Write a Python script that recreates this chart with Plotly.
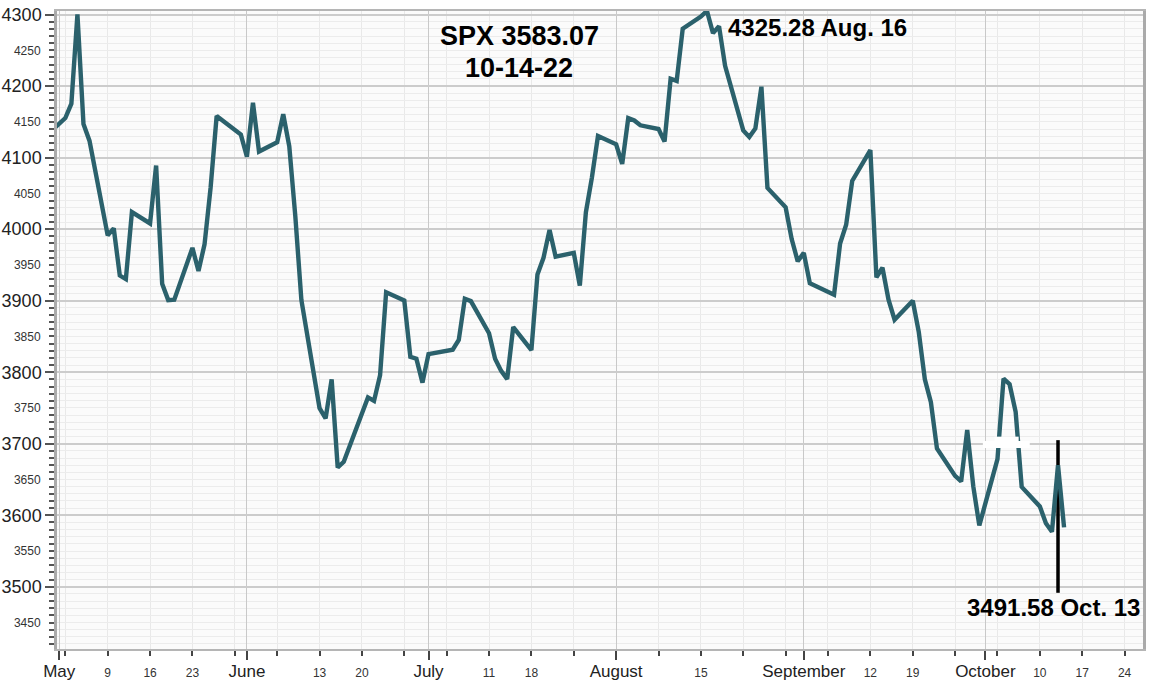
import plotly.graph_objects as go

# ---- data ----
dates = [
    "2022-04-29",
    "2022-05-02", "2022-05-03", "2022-05-04", "2022-05-05", "2022-05-06",
    "2022-05-09", "2022-05-10", "2022-05-11", "2022-05-12", "2022-05-13",
    "2022-05-16", "2022-05-17", "2022-05-18", "2022-05-19", "2022-05-20",
    "2022-05-23", "2022-05-24", "2022-05-25", "2022-05-26", "2022-05-27",
    "2022-05-31", "2022-06-01", "2022-06-02", "2022-06-03",
    "2022-06-06", "2022-06-07", "2022-06-08", "2022-06-09", "2022-06-10",
    "2022-06-13", "2022-06-14", "2022-06-15", "2022-06-16", "2022-06-17",
    "2022-06-21", "2022-06-22", "2022-06-23", "2022-06-24",
    "2022-06-27", "2022-06-28", "2022-06-29", "2022-06-30", "2022-07-01",
    "2022-07-05", "2022-07-06", "2022-07-07", "2022-07-08",
    "2022-07-11", "2022-07-12", "2022-07-13", "2022-07-14", "2022-07-15",
    "2022-07-18", "2022-07-19", "2022-07-20", "2022-07-21", "2022-07-22",
    "2022-07-25", "2022-07-26", "2022-07-27", "2022-07-28", "2022-07-29",
    "2022-08-01", "2022-08-02", "2022-08-03", "2022-08-04", "2022-08-05",
    "2022-08-08", "2022-08-09", "2022-08-10", "2022-08-11", "2022-08-12",
    "2022-08-15", "2022-08-16", "2022-08-17", "2022-08-18", "2022-08-19",
    "2022-08-22", "2022-08-23", "2022-08-24", "2022-08-25", "2022-08-26",
    "2022-08-29", "2022-08-30", "2022-08-31", "2022-09-01", "2022-09-02",
    "2022-09-06", "2022-09-07", "2022-09-08", "2022-09-09",
    "2022-09-12", "2022-09-13", "2022-09-14", "2022-09-15", "2022-09-16",
    "2022-09-19", "2022-09-20", "2022-09-21", "2022-09-22", "2022-09-23",
    "2022-09-26", "2022-09-27", "2022-09-28", "2022-09-29", "2022-09-30",
    "2022-10-03", "2022-10-04", "2022-10-05", "2022-10-06", "2022-10-07",
    "2022-10-10", "2022-10-11", "2022-10-12", "2022-10-13", "2022-10-14",
]
closes = [
    4131.93,
    4155.38, 4175.48, 4300.17, 4146.87, 4123.34,
    3991.24, 4001.05, 3935.18, 3930.08, 4023.89,
    4008.01, 4088.85, 3923.68, 3900.79, 3901.36,
    3973.75, 3941.48, 3978.73, 4057.84, 4158.24,
    4132.15, 4101.23, 4176.82, 4108.54,
    4121.43, 4160.68, 4115.77, 4017.82, 3900.86,
    3749.63, 3735.48, 3789.99, 3666.77, 3674.84,
    3764.79, 3759.89, 3795.73, 3911.74,
    3900.11, 3821.55, 3818.83, 3785.38, 3825.33,
    3831.39, 3845.08, 3902.62, 3899.38,
    3854.43, 3818.80, 3801.78, 3790.38, 3863.16,
    3830.85, 3936.69, 3959.90, 3998.95, 3961.63,
    3966.84, 3921.05, 4023.61, 4072.43, 4130.29,
    4118.63, 4091.19, 4155.17, 4151.94, 4145.19,
    4140.06, 4122.47, 4210.24, 4207.27, 4280.15,
    4297.14, 4305.20, 4274.04, 4283.74, 4228.48,
    4137.99, 4128.73, 4140.77, 4199.12, 4057.66,
    4030.61, 3986.16, 3955.00, 3966.85, 3924.26,
    3908.19, 3979.87, 4006.18, 4067.36,
    4110.41, 3932.69, 3946.01, 3901.35, 3873.33,
    3899.89, 3855.93, 3789.93, 3757.99, 3693.23,
    3655.04, 3647.29, 3719.04, 3640.47, 3585.62,
    3678.43, 3790.93, 3783.28, 3744.52, 3639.66,
    3612.39, 3588.84, 3577.03, 3669.91, 3583.07,
]

# Oct 13 intraday range bar
range_date = "2022-10-13"
range_low = 3491.58
range_high = 3705.0

# white smudge near 3700 in early October
smudge_dates = ["2022-09-30 14:00", "2022-10-08 08:00"]
smudge_level = 3699
smudge_top_dates = ["2022-10-02 12:00", "2022-10-06 12:00"]
smudge_top_level = 3705

month_ticks = ["2022-05-01", "2022-06-01", "2022-07-01", "2022-08-01", "2022-09-01", "2022-10-01"]
month_labels = ["May", "June", "July", "August", "September", "October"]

week_ticks = [
    "2022-05-02", "2022-05-09", "2022-05-16", "2022-05-23", "2022-05-30",
    "2022-06-06", "2022-06-13", "2022-06-20", "2022-06-27",
    "2022-07-04", "2022-07-11", "2022-07-18", "2022-07-25",
    "2022-08-08", "2022-08-15", "2022-08-22", "2022-08-29",
    "2022-09-05", "2022-09-12", "2022-09-19", "2022-09-26",
    "2022-10-03", "2022-10-10", "2022-10-17", "2022-10-24",
]
week_labels = [
    "", "9", "16", "23", "",
    "", "13", "20", "",
    "", "11", "18", "",
    "", "15", "", "",
    "", "12", "19", "",
    "", "10", "17", "24",
]

y_major = [3500, 3600, 3700, 3800, 3900, 4000, 4100, 4200, 4300]
y_minor = [3450, 3550, 3650, 3750, 3850, 3950, 4050, 4150, 4250]

x_range = ["2022-04-30 15:00", "2022-10-27 01:00"]
y_range = [3413, 4305]

LINE = "#2b616c"
FONT = "Liberation Sans, Arial, sans-serif"

fig = go.Figure()

fig.add_trace(go.Scatter(
    x=[range_date, range_date], y=[range_low, range_high],
    mode="lines", line=dict(color="black", width=3.5),
    hoverinfo="skip", showlegend=False,
))
fig.add_trace(go.Scatter(
    x=dates, y=closes, mode="lines",
    line=dict(color=LINE, width=4.4),
    showlegend=False,
))
fig.add_trace(go.Scatter(
    x=smudge_dates, y=[smudge_level, smudge_level], mode="lines",
    line=dict(color="white", width=7),
    hoverinfo="skip", showlegend=False,
))
fig.add_trace(go.Scatter(
    x=smudge_top_dates, y=[smudge_top_level, smudge_top_level], mode="lines",
    line=dict(color="white", width=7),
    hoverinfo="skip", showlegend=False,
))
# dummy traces for overlay axes
fig.add_trace(go.Scatter(x=[dates[0]], y=[closes[0]], xaxis="x2", yaxis="y2",
                         mode="markers", marker=dict(opacity=0), hoverinfo="skip", showlegend=False))

fig.update_layout(
    width=1152, height=681,
    margin=dict(l=57, r=9, t=11, b=32, autoexpand=False),
    paper_bgcolor="white",
    plot_bgcolor="#fbfbfb",
    font=dict(family=FONT, color="#222"),
    xaxis=dict(
        type="date", range=x_range, automargin=False,
        tickmode="array", tickvals=month_ticks, ticktext=month_labels,
        tickfont=dict(size=17, color="#222"),
        ticks="outside", ticklen=9, tickwidth=1.5, tickcolor="#444",
        ticklabelstandoff=-3,
        showgrid=True, gridcolor="#c9c9c9", gridwidth=1.2,
        minor=dict(tickmode="array", tickvals=week_ticks, ticks="outside", ticklen=5,
                   tickcolor="#444", showgrid=True, gridcolor="#e9e9e9", gridwidth=1),
        showline=True, linecolor="#b5b5b5", linewidth=2, mirror=True,
        zeroline=False,
    ),
    xaxis2=dict(
        type="date", range=x_range, overlaying="x", anchor="y", side="bottom",
        automargin=False,
        tickmode="array", tickvals=week_ticks, ticktext=week_labels,
        tickfont=dict(size=12, color="#333"),
        ticks="outside", ticklen=13, tickcolor="rgba(0,0,0,0)",
        showgrid=False, showline=False, zeroline=False,
    ),
    yaxis=dict(
        range=y_range, automargin=False,
        tickmode="array", tickvals=y_major, ticktext=[str(v) for v in y_major],
        tickfont=dict(size=18, color="#222"),
        ticks="outside", ticklen=9, tickwidth=1.5, tickcolor="#555",
        showgrid=True, gridcolor="#cccccc", gridwidth=1.5,
        minor=dict(dtick=10, tick0=0, ticks="outside", ticklen=5, tickcolor="#555",
                   showgrid=True, gridcolor="#ececec", gridwidth=1),
        showline=True, linecolor="#aaaaaa", linewidth=2.5, mirror=True,
        zeroline=False,
    ),
    yaxis2=dict(
        range=y_range, overlaying="y", anchor="x", side="left", automargin=False,
        tickmode="array", tickvals=y_minor, ticktext=[str(v) for v in y_minor],
        tickfont=dict(size=12, color="#333"),
        ticks="outside", ticklen=13, tickcolor="rgba(0,0,0,0)",
        showgrid=False, showline=False, zeroline=False,
    ),
)

def px_x(p):
    return (p - 57) / (1143 - 57)

def px_y(p):
    return (649 - p) / (649 - 11)

fig.add_annotation(
    text="<b>SPX 3583.07</b>", xref="paper", yref="paper",
    x=px_x(519), y=px_y(36), xanchor="center", yanchor="middle",
    showarrow=False, font=dict(size=27, color="black", family=FONT),
)
fig.add_annotation(
    text="<b>10-14-22</b>", xref="paper", yref="paper",
    x=px_x(519), y=px_y(68), xanchor="center", yanchor="middle",
    showarrow=False, font=dict(size=27, color="black", family=FONT),
)
fig.add_annotation(
    text="<b>4325.28 Aug. 16</b>", xref="paper", yref="paper",
    x=px_x(726), y=px_y(27), xanchor="left", yanchor="middle",
    showarrow=False, font=dict(size=24, color="black", family=FONT),
)
fig.add_annotation(
    text="<b>3491.58 Oct. 13</b>", xref="paper", yref="paper",
    x=px_x(965), y=px_y(607), xanchor="left", yanchor="middle",
    showarrow=False, font=dict(size=24, color="black", family=FONT),
)

fig.write_html("out.html")
